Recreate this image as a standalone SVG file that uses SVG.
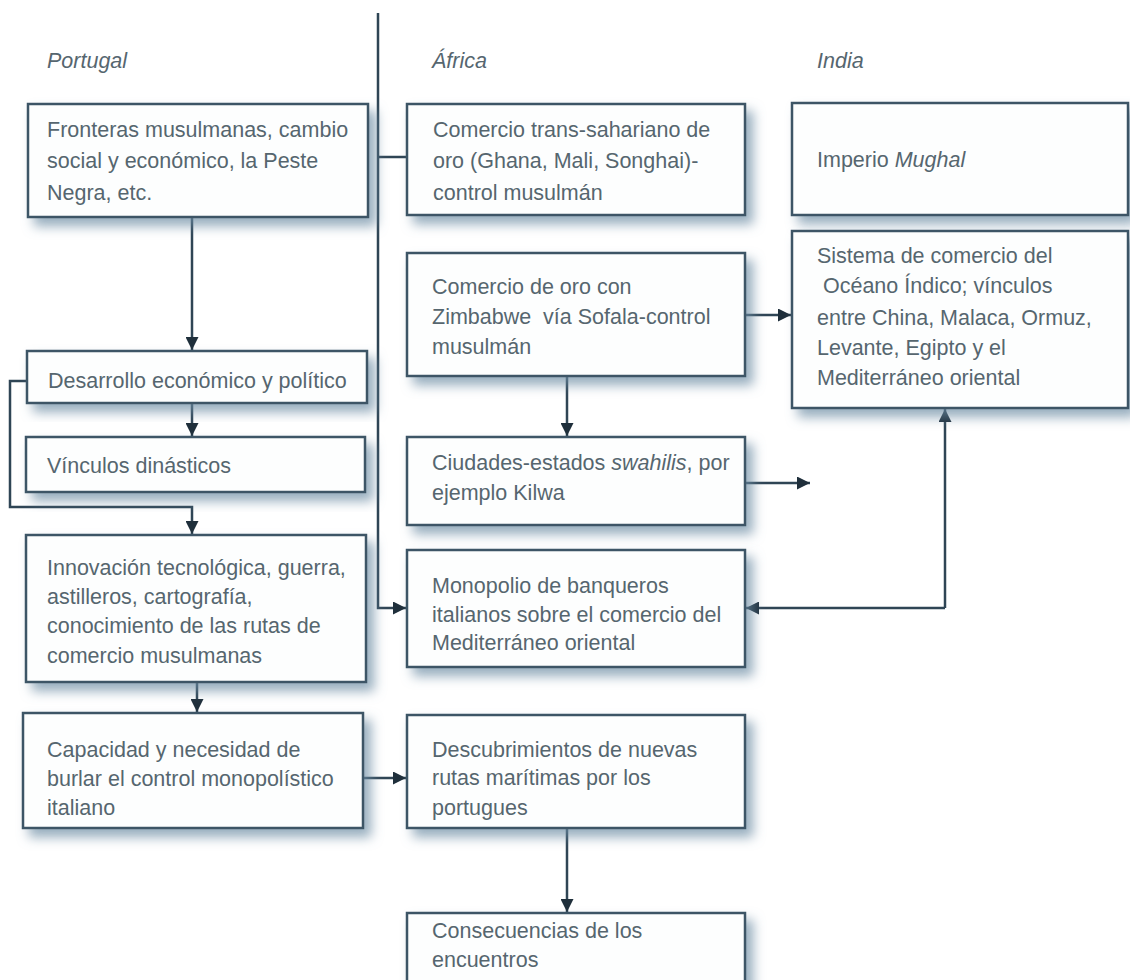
<svg xmlns="http://www.w3.org/2000/svg" width="1130" height="980" viewBox="0 0 1130 980">
<defs>
<filter id="sh" x="-10%" y="-15%" width="130%" height="150%">
<feDropShadow dx="7" dy="8" stdDeviation="6" flood-color="#6a8aa3" flood-opacity="0.7"/>
</filter>
<marker id="ah" viewBox="0 0 10 10" refX="10" refY="5" markerWidth="14" markerHeight="13" markerUnits="userSpaceOnUse" orient="auto">
<path d="M0,0 L10,5 L0,10 z" fill="#1f2f3b"/>
</marker>
<style>
.box{fill:#fdfefe;stroke:#3d5566;stroke-width:2.5;filter:url(#sh)}
.t{font-family:"Liberation Sans",Arial,sans-serif;font-size:21.5px;fill:#56666f}
.h{font-style:italic}
.c{fill:none;stroke:#2f4555;stroke-width:2.5}
.a{marker-end:url(#ah)}
</style>
</defs>
<rect width="1130" height="980" fill="#ffffff"/>

<g id="headings">
<text class="t h" x="47" y="68">Portugal</text>
<text class="t h" x="432" y="68">África</text>
<text class="t h" x="817" y="68">India</text>
</g>

<g id="connectors">
<path class="c a" d="M378,13 L378,608 L406,608"/>
<path class="c" d="M378,157 L407,157"/>
<path class="c a" d="M192,217 L192,350"/>
<path class="c a" d="M192,403 L192,436"/>
<path class="c a" d="M27,381 L10,381 L10,507 L192,507 L192,534"/>
<path class="c a" d="M197,682 L197,712"/>
<path class="c a" d="M363,778 L406,778"/>
<path class="c a" d="M745,315 L791,315"/>
<path class="c a" d="M567,376 L567,436"/>
<path class="c a" d="M745,483 L810,483"/>
<path class="c a" d="M945,608 L945,409"/>
<path class="c a" d="M945,608 L746,608"/>
<path class="c a" d="M567,828 L567,912"/>
</g>

<g id="n1"><rect class="box" x="28" y="104" width="340" height="113"/>
<text class="t" x="47" y="137">Fronteras musulmanas, cambio</text>
<text class="t" x="47" y="168">social y económico, la Peste</text>
<text class="t" x="47" y="200">Negra, etc.</text></g>

<g id="n2"><rect class="box" x="407" y="104" width="338" height="111"/>
<text class="t" x="433" y="137">Comercio trans-sahariano de</text>
<text class="t" x="433" y="168">oro (Ghana, Mali, Songhai)-</text>
<text class="t" x="433" y="200">control musulmán</text></g>

<g id="n3"><rect class="box" x="792" y="103" width="336" height="112"/>
<text class="t" x="817" y="167">Imperio <tspan class="h">Mughal</tspan></text></g>

<g id="n4"><rect class="box" x="792" y="231" width="336" height="177"/>
<text class="t" x="817" y="263">Sistema de comercio del</text>
<text class="t" x="817" y="293" xml:space="preserve"> Océano Índico; vínculos</text>
<text class="t" x="817" y="325">entre China, Malaca, Ormuz,</text>
<text class="t" x="817" y="355">Levante, Egipto y el</text>
<text class="t" x="817" y="385">Mediterráneo oriental</text></g>

<g id="n5"><rect class="box" x="407" y="253" width="338" height="123"/>
<text class="t" x="432" y="294">Comercio de oro con</text>
<text class="t" x="432" y="324" xml:space="preserve">Zimbabwe  vía Sofala-control</text>
<text class="t" x="432" y="354">musulmán</text></g>

<g id="n6"><rect class="box" x="27" y="351" width="340" height="52"/>
<text class="t" x="48" y="388">Desarrollo económico y político</text></g>

<g id="n7"><rect class="box" x="26" y="437" width="339" height="55"/>
<text class="t" x="47" y="473">Vínculos dinásticos</text></g>

<g id="n8"><rect class="box" x="407" y="437" width="338" height="88"/>
<text class="t" x="432" y="470">Ciudades-estados <tspan class="h">swahilis</tspan>, por</text>
<text class="t" x="432" y="500">ejemplo Kilwa</text></g>

<g id="n9"><rect class="box" x="26" y="535" width="340" height="147"/>
<text class="t" x="47" y="575">Innovación tecnológica, guerra,</text>
<text class="t" x="47" y="604">astilleros, cartografía,</text>
<text class="t" x="47" y="633">conocimiento de las rutas de</text>
<text class="t" x="47" y="663">comercio musulmanas</text></g>

<g id="n10"><rect class="box" x="407" y="550" width="338" height="117"/>
<text class="t" x="432" y="593">Monopolio de banqueros</text>
<text class="t" x="432" y="622">italianos sobre el comercio del</text>
<text class="t" x="432" y="650">Mediterráneo oriental</text></g>

<g id="n11"><rect class="box" x="23" y="713" width="340" height="115"/>
<text class="t" x="47" y="757">Capacidad y necesidad de</text>
<text class="t" x="47" y="786">burlar el control monopolístico</text>
<text class="t" x="47" y="815">italiano</text></g>

<g id="n12"><rect class="box" x="407" y="715" width="338" height="113"/>
<text class="t" x="432" y="757">Descubrimientos de nuevas</text>
<text class="t" x="432" y="785">rutas marítimas por los</text>
<text class="t" x="432" y="815">portugues</text></g>

<g id="n13"><rect class="box" x="407" y="913" width="338" height="90"/>
<text class="t" x="432" y="938">Consecuencias de los</text>
<text class="t" x="432" y="967">encuentros</text></g>
</svg>
